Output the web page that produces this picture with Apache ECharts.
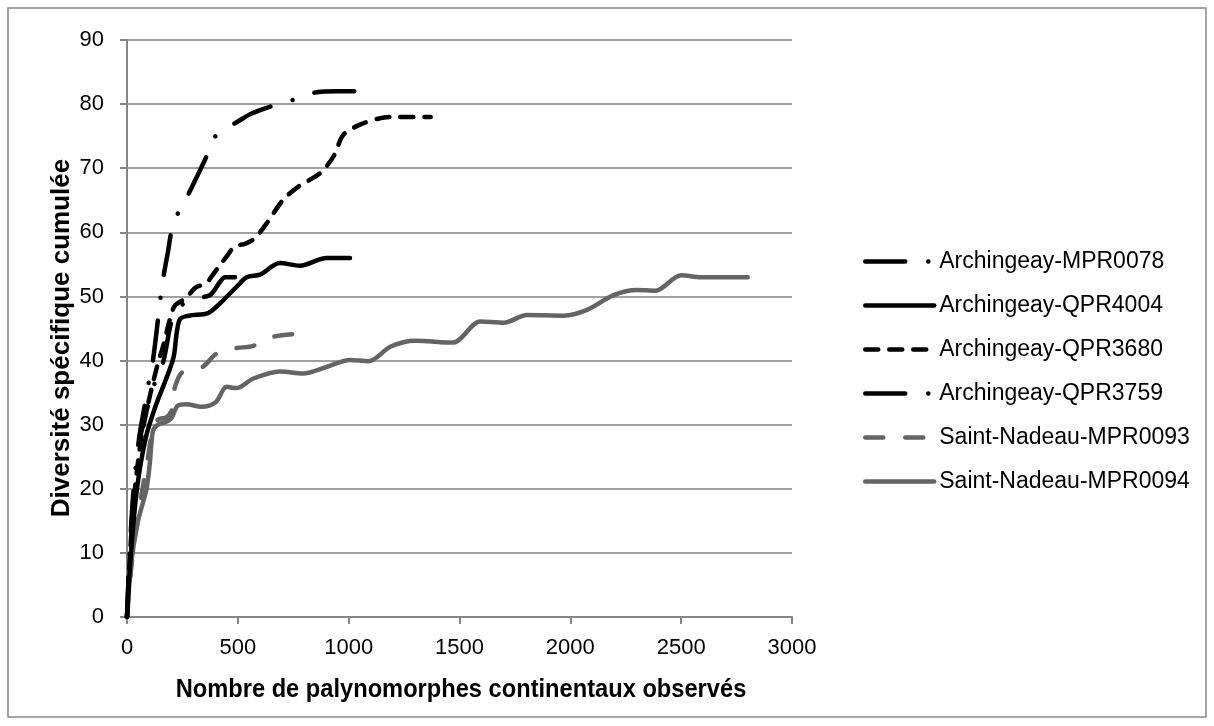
<!DOCTYPE html>
<html>
<head>
<meta charset="utf-8">
<script src="https://cdn.jsdelivr.net/npm/echarts@6/dist/echarts.min.js"></script>
<style>
  html, body { margin: 0; padding: 0; background: #fff; }
  #chart { width: 1214px; height: 726px; }
</style>
</head>
<body>
<div id="chart"></div>
<script>
// Cumulative species diversity vs. number of continental palynomorphs counted
const seriesNames = [
  'Archingeay-MPR0078',
  'Archingeay-QPR4004',
  'Archingeay-QPR3680',
  'Archingeay-QPR3759',
  'Saint-Nadeau-MPR0093',
  'Saint-Nadeau-MPR0094'
];

const mpr0078 = [[0,0],[12,10],[30,20],[55,28],[80,33],[100,37],[117,40],[140,46.5],[152,50],[167,53.6],[185,57],[200,60],[230,63],[279,66.1],[320,69],[361,72],[399,75],[440,76.2],[486,77],[560,78.5],[655,79.7],[753,80.7],[848,81.8],[950,82],[1036,82]];
const qpr4004 = [[0,0],[18,10],[45,20],[85,28],[130,33],[175,37],[210,40.5],[225,44.5],[240,46.5],[280,47],[366,47.4],[419,48.9],[494,51.5],[540,53],[600,53.4],[690,55.2],[780,54.8],[900,56],[1006,56]];
const qpr3680 = [[0,0],[14,10],[36,20],[65,28],[100,34],[135,39],[165,42.5],[190,46],[215,48.5],[268,49.8],[306,51.3],[359,52.1],[381,53.1],[426,55.2],[449,56.2],[486,57.8],[532,58.2],[577,59.1],[630,61.4],[705,65.1],[772,67.1],[870,69.2],[931,71.8],[976,75.2],[1051,76.8],[1141,77.8],[1200,78],[1370,78]];
const qpr3759 = [[0,0],[13,10],[33,20],[60,28],[95,33],[130,37],[165,40],[193,45],[215,47.5],[260,49],[306,49.7],[374,50.2],[420,52.3],[442,53],[540,53]];
const mpr0093 = [[0,0],[20,8],[45,15],[70,20],[95,25],[115,29],[140,30.8],[180,31.2],[205,32.5],[215,35.7],[250,38.2],[340,39],[404,41.1],[486,41.9],[570,42.3],[660,43.7],[745,44.1]];
const mpr0094 = [[0,0],[10,5],[25,10],[50,15],[65,17],[88,20],[103,24],[117,29],[140,30],[180,30.5],[200,31],[230,33],[268,33.2],[336,32.8],[400,33.5],[450,35.9],[494,35.7],[570,37.2],[690,38.3],[795,38.0],[900,39],[1006,40.1],[1090,39.9],[1190,42.2],[1300,43.1],[1470,42.8],[1593,46.1],[1700,45.9],[1804,47.1],[1969,47.0],[2075,47.9],[2195,50.2],[2300,51.0],[2384,50.9],[2500,53.3],[2590,53.0],[2800,53.0]];

const xTicks = [0, 500, 1000, 1500, 2000, 2500, 3000];
const yTicks = [0, 10, 20, 30, 40, 50, 60, 70, 80, 90];

const FONT = '"Liberation Sans", Arial, sans-serif';
const BLACK = '#000000';
const GREY = '#646464';

// dash patterns for each curve
const styles = [
  { color: BLACK, type: [40, 23, 0.1, 23] },
  { color: BLACK, type: 'solid' },
  { color: BLACK, type: [13, 11] },
  { color: BLACK, type: [40, 23, 0.1, 23] },
  { color: GREY,  type: [18, 22] },
  { color: GREY,  type: 'solid' }
];
const datasets = [mpr0078, qpr4004, qpr3680, qpr3759, mpr0093, mpr0094];

const chart = echarts.init(document.getElementById('chart'), null, { renderer: 'canvas' });

chart.setOption({
  backgroundColor: '#ffffff',
  animation: false,
  grid: { left: 127, right: 422, top: 40, bottom: 109, containLabel: false },
  xAxis: {
    type: 'value',
    min: xTicks[0],
    max: xTicks[xTicks.length - 1],
    interval: 500,
    axisLine: { show: true, onZero: false, lineStyle: { color: '#868686', width: 2 } },
    axisTick: { show: true, inside: false, length: 7, lineStyle: { color: '#868686', width: 2 } },
    axisLabel: { color: '#000', fontFamily: FONT, fontSize: 22, margin: 20, formatter: v => String(v) },
    splitLine: { show: false }
  },
  yAxis: {
    type: 'value',
    min: yTicks[0],
    max: yTicks[yTicks.length - 1],
    interval: 10,
    axisLine: { show: true, lineStyle: { color: '#868686', width: 2 } },
    axisTick: { show: true, inside: false, length: 7, lineStyle: { color: '#868686', width: 2 } },
    axisLabel: { color: '#000', fontFamily: FONT, fontSize: 22, margin: 23, formatter: v => String(v) },
    splitLine: { show: true, lineStyle: { color: '#a0a0a0', width: 2 } }
  },
  legend: {
    orient: 'vertical',
    left: 858,
    top: 245,
    itemWidth: 69,
    itemHeight: 14,
    itemGap: 21,
    itemStyle: { color: 'rgba(0,0,0,0)', borderColor: 'rgba(0,0,0,0)', borderWidth: 0, opacity: 0 },
    lineStyle: { width: 4.5, cap: 'round' },
    textStyle: { color: '#000', fontFamily: FONT, fontSize: 23, lineHeight: 23 },
    data: seriesNames
  },
  graphic: [
    {
      type: 'rect',
      shape: { x: 8, y: 8, width: 1198, height: 709 },
      style: { fill: 'none', stroke: '#868686', lineWidth: 1.5 },
      silent: true,
      z: -1
    },
    {
      type: 'text',
      x: 62, y: 338,
      rotation: Math.PI / 2,
      style: {
        text: 'Diversité spécifique cumulée',
        fill: '#000',
        font: 'bold 26px ' + FONT,
        textAlign: 'center',
        textVerticalAlign: 'middle'
      }
    },
    {
      type: 'text',
      x: 461, y: 690,
      scaleX: 0.91,
      style: {
        text: 'Nombre de palynomorphes continentaux observés',
        fill: '#000',
        font: 'bold 26px ' + FONT,
        textAlign: 'center',
        textVerticalAlign: 'middle'
      }
    }
  ],
  series: datasets.map((d, i) => ({
    name: seriesNames[i],
    type: 'line',
    data: d,
    smooth: 0.3,
    symbol: 'none',
    showSymbol: false,
    clip: true,
    color: styles[i].color,
    lineStyle: {
      color: styles[i].color,
      width: 4.5,
      type: styles[i].type,
      cap: 'round',
      join: 'round'
    },
    z: 10 - i
  }))
});
</script>
</body>
</html>
